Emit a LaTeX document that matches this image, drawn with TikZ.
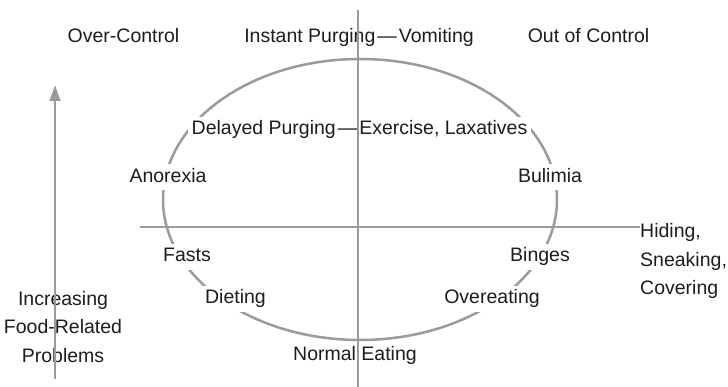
\documentclass[tikz,border=0pt]{standalone}
\usepackage{fontspec}
\setmainfont{Liberation Sans}
\usetikzlibrary{shapes.geometric,arrows.meta}
\definecolor{linegray}{RGB}{155,155,155}
\definecolor{inkc}{RGB}{30,28,28}
\newcommand{\mydash}{\kern2pt---\kern2pt}
\tikzset{
  lbl/.style={font=\fontsize{19.5}{28.5}\selectfont, text=inkc, inner sep=1pt, text height=14pt, text depth=4pt},
  masklbl/.style={lbl, fill=white, inner sep=4pt},
  blocklbl/.style={font=\fontsize{19.5}{28.5}\selectfont, text=inkc, inner sep=0pt},
  axisline/.style={draw=linegray, line width=2.6pt},
}
\begin{document}
\begin{tikzpicture}[x=1pt,y=1pt]
\useasboundingbox[fill=white] (0,0) rectangle (728,387);
% ellipse
\node[ellipse, draw=linegray, line width=2.5pt, minimum width=394pt, minimum height=281pt, inner sep=0pt] (oval) at (360,187.5) {};
% top row
\node[lbl] (over) at (123.5,349) {Over-Control};
\node[lbl] (instant) at (359,349) {Instant Purging\mydash Vomiting};
\node[lbl] (outof) at (588.5,349) {Out of Control};
% labels on the ellipse
\node[masklbl] (delayed) at (359.5,257) {Delayed Purging\mydash Exercise, Laxatives};
\node[masklbl] (anorexia) at (168,209.5) {Anorexia};
\node[masklbl] (bulimia) at (550,209.5) {Bulimia};
\node[masklbl] (fasts) at (187,130) {Fasts};
\node[masklbl] (binges) at (540,130) {Binges};
\node[masklbl] (dieting) at (235.5,88) {Dieting};
\node[masklbl] (overeating) at (492,88) {Overeating};
\node[lbl] (normal) at (355,31) {Normal Eating};
% side blocks
\node[blocklbl, align=center] (incr) at (63,60) {Increasing\\Food-Related\\Problems};
\node[blocklbl, align=left, anchor=west] (hid) at (640,126) {Hiding,\\Sneaking,\\Covering};
% axes
\coordinate (vtop) at (358,377);
\coordinate (vbot) at (358,0);
\coordinate (hl) at (140,160);
\draw[axisline] (vtop) -- (vbot);
\draw[axisline] (hl) -- (hid.west |- hl);
% left arrow
\coordinate (abot) at (55,8);
\coordinate (atop) at (55,302);
\draw[axisline, -{Triangle[length=16pt,width=10.5pt]}] (abot) -- (atop);
\end{tikzpicture}
\end{document}
